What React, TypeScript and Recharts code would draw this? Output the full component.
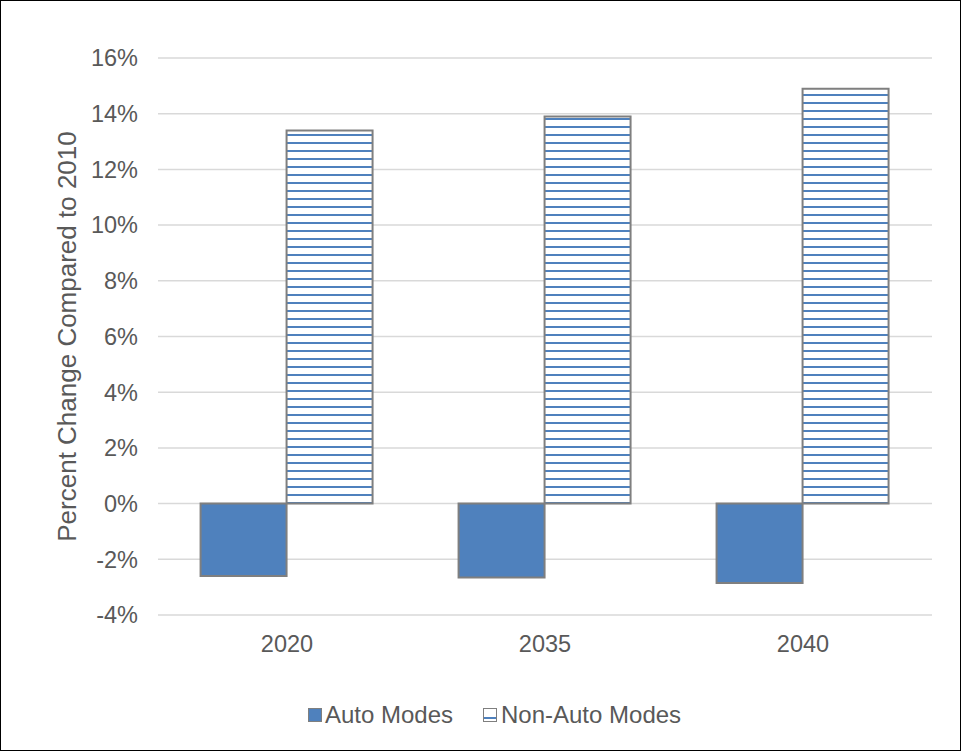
import * as React from "react"
import {
  Bar,
  BarChart,
  XAxis,
  YAxis,
  CartesianGrid,
  Legend,
} from "recharts"

const years = ["2020", "2035", "2040"]
const autoModes = [-2.6, -2.65, -2.85]
const nonAutoModes = [13.4, 13.9, 14.9]
const yTicks = [-4, -2, 0, 2, 4, 6, 8, 10, 12, 14, 16]

const data = years.map((year, i) => ({
  year,
  auto: autoModes[i],
  nonAuto: nonAutoModes[i],
}))

const FONT = "'Liberation Sans', Arial, sans-serif"
const TEXT = "#595959"
const BLUE = "#4f81bd"
const EDGE = "#7f7f7f"

const LegendContent = () => (
  <div
    style={{
      display: "flex",
      justifyContent: "center",
      alignItems: "center",
      fontFamily: FONT,
      fontSize: 24,
      color: TEXT,
      gap: 30,
      paddingLeft: 28,
    }}
  >
    <div style={{ display: "flex", alignItems: "center" }}>
      <div style={{ width: 12, height: 12, background: BLUE, border: `1px solid ${EDGE}`, marginRight: 3 }} />
      <span>Auto Modes</span>
    </div>
    <div style={{ display: "flex", alignItems: "center" }}>
      <div
        style={{
          width: 12,
          height: 12,
          background: "#fff",
          border: `1px solid ${EDGE}`,
          marginRight: 4,
          position: "relative",
        }}
      >
        <div style={{ position: "absolute", left: 0, right: 0, top: 8, height: 2, background: BLUE }} />
      </div>
      <span>Non-Auto Modes</span>
    </div>
  </div>
)

// rotated axis title, centred on the plot height
const AxisTitle = (props: any) => {
  const vb = props.viewBox || {}
  const cx = 66
  const cy = (vb.y ?? 0) + (vb.height ?? 0) / 2
  return (
    <text
      x={cx}
      y={cy}
      transform={`rotate(-90, ${cx}, ${cy})`}
      textAnchor="middle"
      dominantBaseline="central"
      fill={TEXT}
      fontSize={26}
      fontFamily={FONT}
    >
      Percent Change Compared to 2010
    </text>
  )
}

export default function App() {
  return (
    <div
      style={{
        position: "absolute",
        top: 0,
        left: 0,
        width: 959,
        height: 749,
        border: "1px solid #000",
        background: "#fff",
      }}
    >
      <BarChart
        width={959}
        height={749}
        data={data}
        margin={{ top: 57, right: 28, bottom: 55, left: 0 }}
        barCategoryGap="16.5%"
        barGap={0}
      >
        <defs>
          <pattern id="hstripes" width="8" height="8" patternUnits="userSpaceOnUse">
            <rect width="8" height="8" fill="#fff" />
            <rect y="5" width="8" height="2" fill={BLUE} />
          </pattern>
        </defs>
        <CartesianGrid vertical={false} stroke="#d9d9d9" strokeWidth={1.5} />
        <XAxis
          dataKey="year"
          axisLine={false}
          tickLine={false}
          height={40}
          tick={{ fill: TEXT, fontSize: 23.5, fontFamily: FONT }}
          tickMargin={14}
        />
        <YAxis
          width={157}
          domain={[-4, 16]}
          ticks={yTicks}
          interval={0}
          axisLine={false}
          tickLine={false}
          tickFormatter={(v: number) => `${v}%`}
          tick={{ fill: TEXT, fontSize: 23.5, fontFamily: FONT }}
          tickMargin={14}
          label={<AxisTitle />}
        />
        <Legend
          verticalAlign="bottom"
          height={40}
          content={<LegendContent />}
          wrapperStyle={{ top: 700, left: 0, width: 959 }}
        />
        <Bar dataKey="auto" name="Auto Modes" fill={BLUE} stroke={EDGE} strokeWidth={2} isAnimationActive={false} />
        <Bar
          dataKey="nonAuto"
          name="Non-Auto Modes"
          fill="url(#hstripes)"
          stroke={EDGE}
          strokeWidth={2}
          isAnimationActive={false}
        />
      </BarChart>
    </div>
  )
}
